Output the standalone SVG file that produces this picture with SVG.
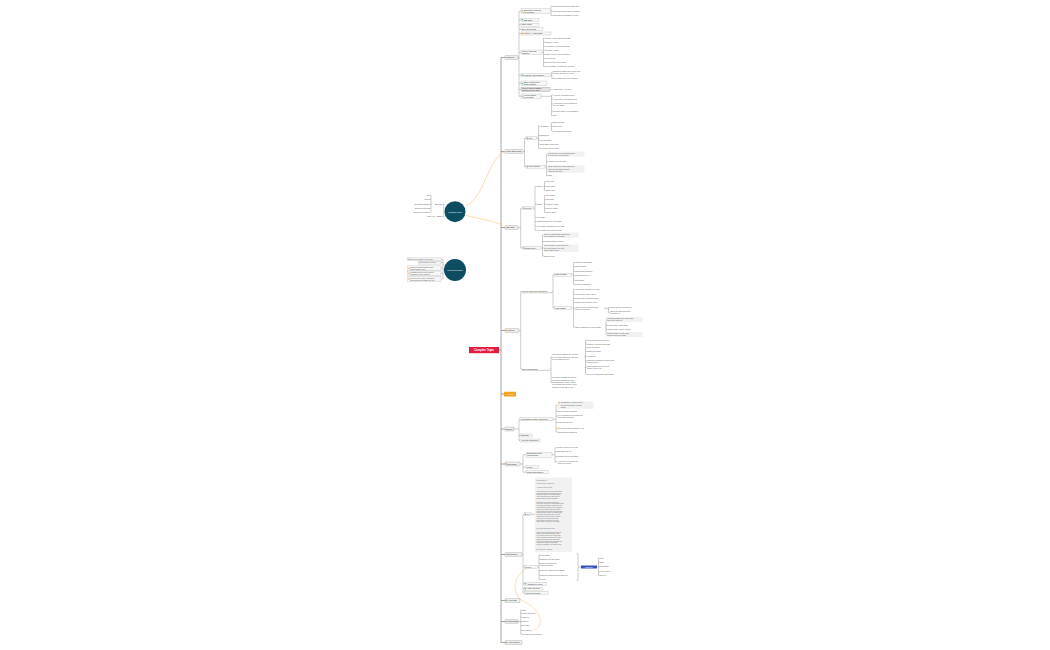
<svg xmlns="http://www.w3.org/2000/svg" width="1050" height="650" viewBox="0 0 1050 650">
<style>
text{font-family:"Liberation Sans",Arial,sans-serif}
.l{fill:none;stroke:#707070;stroke-width:0.35}
.tr{fill:none;stroke:#5a5a5a;stroke-width:0.55}
.rel{fill:none;stroke:#f6c47a;stroke-width:0.6}
.mb{fill:#f2f2f2;stroke:#8a8a8a;stroke-width:0.35}
.cb{fill:#f7f7f7;stroke:#a8a8a8;stroke-width:0.3}
.pn{fill:#f1f1f1;stroke:none}
.gb{fill:#e2e2e2;stroke:#999;stroke-width:0.3}
.tm{font-size:2.2px;fill:#222}
.tc{font-size:1.9px;fill:#333}
.tl{font-size:1.8px;fill:#555}
.tn{font-size:1.5px;fill:#666}
.tw{fill:#fff}
.gi{fill:#5cb85c}
.oi{fill:#f0962f}
</style>
<rect width="1050" height="650" fill="#fff"/>
<g id="connectors">
<path class="tr" d="M499,350H501 M501,57.5V642.5 M501,57.5H505 M501,151.5H505 M501,227.5H505 M501,330.5H505 M501,394H504 M501,429H505 M501,464H505 M501,554.5H505 M501,600.5H505 M501,621.5H505 M501,642.5H505"/>
<path class="l" d="M518,57.5H519 M519,11V96.3 M519,11H521 M519,19.8H521 M519,24.7H521 M519,29.3H521 M519,33.5H521 M519,52.3H521 M519,75.3H521 M519,83.4H521 M519,89.5H521 M519,96.3H521 M550.5,11H551 M551,6V15.5 M551,6H552.5 M551,11H552.5 M551,15.5H552.5 M542,52.3H543.5 M543.5,38V66.5 M543.5,38H545 M543.5,42H545 M543.5,46.5H545 M543.5,50H545 M543.5,54.5H545 M543.5,58.5H545 M543.5,62.5H545 M543.5,66.5H545 M551,75.3H551.8 M551.8,72V78.3 M551.8,72H553 M551.8,78.3H553 M550,89.5H553 M541,96.3H551.5 M551.5,95V115.7 M551.5,95H553 M551.5,99H553 M551.5,104H553 M551.5,111H553 M551.5,115.7H553"/>
<path class="l" d="M523,151.5H524.5 M524.5,138.3V166.7 M524.5,138.3H526 M524.5,166.7H526 M537,138.3H538.5 M538.5,126V148.3 M538.5,126H540 M538.5,135.7H540 M538.5,140H540 M538.5,144.3H540 M538.5,148.3H540 M550.5,126H551.5 M551.5,122.7V131 M551.5,122.7H553 M551.5,126.7H553 M551.5,131H553 M545,166.7H546.5 M546.5,154V175.7 M546.5,154H548 M546.5,161.7H548 M546.5,169H548 M546.5,175.7H548"/>
<path class="l" d="M518,227.5H520.7 M520.7,208.2V248 M520.7,208.2H522.7 M520.7,248H522.7 M533.3,208.2H535 M535,186.7V230.3 M535,186.7H536.7 M535,204H536.7 M535,217.3H536.7 M535,221.7H536.7 M535,226H536.7 M535,230.3H536.7 M541.8,186.7H544.5 M544.5,181.7V190.3 M544.5,181.7H546 M544.5,186H546 M544.5,190.3H546 M543.3,204H544.5 M544.5,195.7V212.3 M544.5,195.7H546 M544.5,199.7H546 M544.5,204H546 M544.5,208.3H546 M544.5,212.3H546 M541.7,248H542.5 M542.5,235V256 M542.5,235H544 M542.5,241.5H544 M542.5,248H544 M542.5,256H544"/>
<path class="l" d="M519,330.5H520.7 M520.7,291.5V369 M520.7,291.5H522 M520.7,369H522 M552,291.5H553 M553,274.7V308 M553,274.7H554.3 M553,308H554.3 M571.7,274.7H573.5 M573.5,262.3V284.7 M573.5,262.3H575 M573.5,266.7H575 M573.5,271H575 M573.5,275.7H575 M573.5,280H575 M573.5,284.7H575 M571.7,308H573.5 M573.5,289.3V327 M573.5,289.3H575 M573.5,294H575 M573.5,298.3H575 M573.5,302.7H575 M573.5,308.3H575 M573.5,327H575 M604,308.3H608.5 M608.5,307.7V312.5 M608.5,307.7H610 M608.5,312.5H610 M605,327H606 M606,319.5V334.5 M606,319.5H607 M606,325H607 M606,329H607 M606,334.5H607 M550,369H551 M551,357V382.5 M551,357H552 M551,382.5H552 M584,357H585.5 M585.5,340V374 M585.5,340H587 M585.5,344H587 M585.5,347.7H587 M585.5,351.7H587 M585.5,356H587 M585.5,361H587 M585.5,367.5H587 M585.5,374H587"/>
<path class="l" d="M514,429H519 M519,419.3V440.5 M519,419.3H520 M519,435.5H520 M519,440.5H520 M553,419.3H556 M556,405V432 M556,405H558 M556,411H558 M556,416.2H558 M556,422.7H558 M556,428.3H558 M556,432H558 M520,464H523 M523,454.7V472.2 M523,454.7H526 M523,467.2H526 M523,472.2H526 M552,454.7H555 M555,447.7V462 M555,447.7H558 M555,451.7H558 M555,456.7H558 M555,462H558"/>
<path class="l" d="M522,554.5H523 M523,514.3V592.8 M523,514.3H524.3 M523,567H524.3 M523,583.8H524.3 M523,588.7H524.3 M523,592.8H524.3 M531,514.3H535 M537.7,567H539 M539,555V579.3 M539,555H540 M539,559H540 M539,564H540 M539,570.7H540 M539,575H540 M539,579.3H540 M576.5,553Q578,553 578,555V565Q578,567 579.5,567Q578,567 578,569V579Q578,581 576.5,581 M579.5,567H581 M597,567H598.5 M598.5,558.3V575.7 M598.5,558.3H600 M598.5,562.3H600 M598.5,566.7H600 M598.5,571.7H600 M598.5,575.7H600 M518,621.5H520.7 M520.7,610V634 M520.7,610H522 M520.7,613.3H522 M520.7,617.3H522 M520.7,621.7H522 M520.7,625.7H522 M520.7,630H522 M520.7,634H522"/>
<path class="l" d="M444.5,211.7H443.8 M443.8,204V216.7 M443.8,204H442.8 M443.8,216.7H441.6 M432.4,204H431 M431,195.3V212.3 M431,195.3H430.3 M431,199.3H430.3 M431,204.3H430.3 M431,208.3H430.3 M431,212.3H430.3 M435.8,216.7H431.4 M444,270H443 M443,259.3V279 M443,259.3H441.2 M443,262.7H441.2 M443,268.3H441.2 M443,273.3H441.2 M443,279H441.2"/>
<path class="rel" d="M466,205.5C484,199 488,158 505,151.5"/>
<path class="rel" d="M466,215.5C480,219 491,220 503,225.5"/>
<path class="rel" d="M526,569C512,577 511,595 525,602C541,610 545,626 534,630"/>
</g>
<g id="central"><rect x="469" y="347" width="30" height="6.2" fill="#e31c3d"/><text x="484" y="351.1" text-anchor="middle" font-size="2.8" font-weight="bold" class="tw">Complex Topic</text></g>
<g id="floating1"><circle cx="455" cy="211.7" r="10.5" fill="#0d4d61"/><text x="455" y="212.5" text-anchor="middle" font-size="2.2" class="tw">Floating Topic</text>
<text class="tc" x="442.5" y="204.7" text-anchor="end">Idea pool</text>
<text class="tl" text-anchor="end"><tspan x="430" y="196">Idea</tspan><tspan x="430" y="200">Sketch</tspan><tspan x="430" y="205">Brainstorm session</tspan><tspan x="430" y="209">Research and links</tspan><tspan x="430" y="213">Questions to answer</tspan></text>
<text class="tc" x="441.3" y="217.4" text-anchor="end">Draft</text><text class="tl" x="431" y="217.4" text-anchor="end">Note</text></g>
<g id="floating2"><circle cx="455" cy="270" r="11" fill="#0d4d61"/><text x="455" y="270.8" text-anchor="middle" font-size="2.2" class="tw">Ideas Collection</text>
<rect class="cb" x="407.8" y="257.9" width="33.2" height="2.8"/><circle class="gi" cx="409" cy="259.3" r="0.7"/><text class="tl" x="410.2" y="260">Collect all ideas in one place</text>
<rect class="cb" x="418.5" y="261.3" width="22.5" height="2.8"/><text class="tl" x="419.5" y="263.4">Sort ideas by priority</text>
<rect class="cb" x="407.8" y="265.9" width="33.2" height="4.7"/><circle class="oi" cx="409" cy="268.3" r="0.7"/><text class="tl"><tspan x="410.2" y="267.8">Connect floating topics to the</tspan><tspan x="410.2" y="270.1">main structure later</tspan></text>
<rect class="cb" x="407.8" y="271" width="33.2" height="4.7"/><circle class="oi" cx="409" cy="273.3" r="0.7"/><text class="tl"><tspan x="410.2" y="272.8">Floating topics can be placed</tspan><tspan x="410.2" y="275.1">anywhere on the canvas</tspan></text>
<rect class="cb" x="407.8" y="276.6" width="33.2" height="4.7"/><circle class="oi" cx="409" cy="279" r="0.7"/><text class="tl"><tspan x="410.2" y="278.5">Use them for notes, reminders</tspan><tspan x="410.2" y="280.8">and comments outside the tree</tspan></text></g>
<g id="markers"><rect class="mb" x="505" y="55.6" width="13" height="3.8" rx="0.4"/><text class="tm" x="506.2" y="58.3">Markers</text>
<rect class="cb" x="521" y="8.5" width="29.5" height="5"/><circle class="oi" cx="522.4" cy="11" r="0.75"/><text class="tc"><tspan x="523.6" y="10.5">Task priority markers</tspan><tspan x="523.6" y="12.8">set on topics</tspan></text>
<text class="tl"><tspan x="552.5" y="6.65">Priority markers set the task order</tspan><tspan x="552.5" y="11.65">Progress markers track completion</tspan><tspan x="552.5" y="16.15">Flag markers highlight key items</tspan></text>
<rect class="cb" x="521" y="18.3" width="18" height="3"/><circle class="gi" cx="522.4" cy="19.8" r="0.75"/><text class="tc" x="523.6" y="20.5">Task Start</text>
<rect class="cb" x="521" y="23.2" width="18" height="3"/><text class="tc" x="522" y="25.4">Start: Today</text>
<rect class="cb" x="521" y="27.8" width="22" height="3"/><text class="tc" x="522" y="30">Due: Next Friday</text>
<rect class="cb" x="521" y="32" width="30" height="3"/><circle class="oi" cx="522.4" cy="33.5" r="0.75"/><text class="tc" x="523.6" y="34.2">Priority 1 · Urgent task</text>
<rect class="cb" x="521" y="50" width="21" height="4.6"/><text class="tc"><tspan x="522" y="51.8">Weekly Calendar</tspan><tspan x="522" y="54.1">Markers</tspan></text>
<text class="tl"><tspan x="545" y="38.65">Monday: team planning meeting</tspan><tspan x="545" y="42.65">Tuesday: review</tspan><tspan x="545" y="47.15">Wednesday: client presentation</tspan><tspan x="545" y="50.65">Thursday: testing</tspan><tspan x="545" y="55.15">Friday: weekly report submitted</tspan><tspan x="545" y="59.15">Weekend off</tspan><tspan x="545" y="63.15">Next Monday: sprint demo</tspan><tspan x="545" y="67.15">Next Tuesday: retrospective meeting</tspan></text>
<rect class="cb" x="521" y="73.8" width="30" height="3"/><circle class="gi" cx="522.4" cy="75.3" r="0.75"/><text class="tc" x="523.6" y="76">Progress: Half Complete</text>
<text class="tl"><tspan x="553" y="71.5">Completed tasks move to the done</tspan><tspan x="553" y="73.8">list after the weekly review</tspan><tspan x="553" y="78.95">Open tasks stay in the backlog</tspan></text>
<rect class="cb" x="521" y="81" width="26" height="4.8"/><circle class="gi" cx="522.4" cy="83.4" r="0.75"/><text class="tc"><tspan x="523.6" y="82.9">Smiley markers for</tspan><tspan x="523.6" y="85.1">team feedback</tspan></text>
<rect class="gb" x="521" y="87.2" width="29" height="4.6"/><text class="tc"><tspan x="522" y="89.1">People markers assign</tspan><tspan x="522" y="91.3">owners to every task</tspan></text>
<text class="tl" x="553" y="90.15">Assigned to: Alex Chen</text>
<rect class="cb" x="521" y="94" width="20" height="4.6"/><circle class="gi" cx="522.4" cy="96.3" r="0.75"/><text class="tc"><tspan x="523.6" y="95.9">Arrow symbols</tspan><tspan x="523.6" y="98.1">for direction</tspan></text>
<text class="tl"><tspan x="553" y="95.65">Arrow up: increasing trend</tspan><tspan x="553" y="99.65">Arrow down: decreasing trend</tspan><tspan x="553" y="103.5">Arrow right: moving forward to</tspan><tspan x="553" y="105.8">the next stage</tspan><tspan x="553" y="111.65">Question mark: to be discussed</tspan><tspan x="553" y="116.35">Stop</tspan></text></g>
<g id="topic-elements"><rect class="mb" x="505" y="149.6" width="18" height="3.8" rx="0.4"/><text class="tm" x="506.2" y="152.3">Topic Elements</text>
<rect class="cb" x="526" y="136.8" width="11" height="3"/><circle class="gi" cx="527.4" cy="138.3" r="0.75"/><text class="tc" x="528.6" y="139">Text</text>
<text class="tl"><tspan x="540" y="126.7">Formatting</tspan><tspan x="540" y="136.35">Numbering</tspan><tspan x="540" y="140.65">Text wrapping</tspan><tspan x="540" y="144.95">Topic shape and border</tspan><tspan x="540" y="148.95">Fill colour and line style</tspan></text>
<text class="tl"><tspan x="553" y="123.35">Bold and italic</tspan><tspan x="553" y="127.35">Font colour</tspan><tspan x="553" y="131.65">Text alignment options</tspan></text>
<rect class="cb" x="526" y="165.2" width="19" height="3"/><circle class="gi" cx="527.4" cy="166.7" r="0.75"/><text class="tc" x="528.6" y="167.4">Rich Content</text>
<rect class="pn" x="547.5" y="151.6" width="37" height="5"/><rect class="pn" x="547.5" y="165.3" width="37" height="7.4"/>
<text class="tl"><tspan x="548" y="153.5">Add images, hyperlinks and notes</tspan><tspan x="548" y="155.8">to enrich the topic content</tspan><tspan x="548" y="162.35">Attach files to any topic</tspan><tspan x="548" y="167.35">Insert equations, audio notes and</tspan><tspan x="548" y="169.65">labels to add detail without</tspan><tspan x="548" y="171.95">cluttering the map</tspan><tspan x="548" y="176.35">Tags</tspan></text></g>
<g id="structure"><rect class="mb" x="505" y="225.6" width="13" height="3.8" rx="0.4"/><text class="tm" x="506.2" y="228.3">Structure</text>
<rect class="cb" x="522.7" y="206.7" width="10.6" height="3"/><circle class="gi" cx="524.1" cy="208.2" r="0.75"/><text class="tc" x="525.3" y="208.9">Layout</text>
<text class="tl"><tspan x="536.7" y="187.35">Maps</tspan><tspan x="536.7" y="204.65">Charts</tspan><tspan x="537" y="217.95">Tree Table</tspan><tspan x="537" y="222.35">Switch structure for one branch</tspan><tspan x="537" y="226.65">Mix multiple structures in one map</tspan><tspan x="537" y="230.95">Free position for floating topics</tspan></text>
<text class="tl"><tspan x="546" y="182.35">Mind Map</tspan><tspan x="546" y="186.65">Logic Chart</tspan><tspan x="546" y="190.95">Brace Map</tspan><tspan x="546" y="196.35">Tree Chart</tspan><tspan x="546" y="200.35">Org Chart</tspan><tspan x="546" y="204.65">Fishbone Chart</tspan><tspan x="546" y="208.95">Timeline Chart</tspan><tspan x="546" y="212.95">Matrix Chart</tspan></text>
<rect class="cb" x="522.7" y="246.5" width="19" height="3"/><circle class="gi" cx="524.1" cy="248" r="0.75"/><text class="tc" x="525.3" y="248.7">Branch Style</text>
<rect class="pn" x="543.5" y="232.6" width="35" height="5"/><rect class="pn" x="543.5" y="244.4" width="35" height="7.4"/>
<text class="tl"><tspan x="544" y="234.5">Curved, straight and elbow lines</tspan><tspan x="544" y="236.8">are available for branches</tspan><tspan x="544" y="242.15">Rainbow branch colours</tspan><tspan x="544" y="246.35">Set line width, colour and taper</tspan><tspan x="544" y="248.65">for each branch or for the</tspan><tspan x="544" y="250.95">whole map at once</tspan><tspan x="544" y="256.65">Tapered lines</tspan></text></g>
<g id="labels"><rect class="mb" x="505" y="328.6" width="14" height="3.8" rx="0.4"/><circle class="oi" cx="506.4" cy="330.5" r="0.8"/><text class="tm" x="507.6" y="331.3">Labels</text>
<text class="tc" x="522" y="292.15">Project Labels and Categories</text><path class="l" d="M521.8,292.8H552"/>
<rect class="cb" x="554.3" y="273.2" width="17.4" height="3"/><text class="tc" x="555.2" y="275.4">Label Groups</text>
<text class="tl"><tspan x="575" y="262.95">Marketing Campaign</tspan><tspan x="575" y="267.35">Sales Strategy</tspan><tspan x="575" y="271.65">Product Development</tspan><tspan x="575" y="276.35">Customer Service</tspan><tspan x="575" y="280.65">Operations</tspan><tspan x="575" y="285.35">Finance and Budget</tspan></text>
<rect class="cb" x="554.3" y="306.5" width="17.4" height="3"/><text class="tc" x="555.2" y="308.7">Label Usage</text>
<text class="tl"><tspan x="575" y="289.95">Add several labels to one topic</tspan><tspan x="575" y="294.65">Filter topics by their labels</tspan><tspan x="575" y="298.95">Search labels across the map</tspan><tspan x="575" y="303.35">Show or hide labels in view</tspan><tspan x="575" y="307.8">Labels can be combined with</tspan><tspan x="575" y="310.1">markers and icons</tspan><tspan x="575" y="327.65">Label examples by project phase</tspan></text>
<text class="tl"><tspan x="610" y="308.35">Labels appear below topics</tspan><tspan x="610" y="312">Labels are saved with the</tspan><tspan x="610" y="314.3">exported file</tspan></text>
<rect class="pn" x="606.5" y="317.1" width="36" height="4.8"/><rect class="pn" x="606.5" y="332.1" width="36" height="4.8"/>
<text class="tl"><tspan x="607" y="319">Research phase: user interviews</tspan><tspan x="607" y="321.3">and online surveys</tspan><tspan x="607" y="325.65">Design phase: wireframes</tspan><tspan x="607" y="329.65">Testing phase: quality checks</tspan><tspan x="607" y="334">Launch phase: release and</tspan><tspan x="607" y="336.3">announcement to users</tspan></text>
<text class="tc" x="522" y="369.65">Label Descriptions</text><path class="l" d="M521.8,370.3H550"/>
<text class="tl"><tspan x="552" y="355.35">Labels help organize the content</tspan><tspan x="552" y="357.65">of your map. Each topic can hold</tspan><tspan x="552" y="359.95">several labels at once.</tspan></text>
<text class="tl"><tspan x="552" y="378.4">Use labels consistently across</tspan><tspan x="552" y="380.7">projects so that filtering and</tspan><tspan x="552" y="383">searching stay reliable. Short,</tspan><tspan x="552" y="385.3">clear words work best for quick</tspan><tspan x="552" y="387.6">scanning of the whole map.</tspan></text>
<text class="tl"><tspan x="587" y="340.65">Research and development</tspan><tspan x="587" y="344.65">Quarterly planning and goals</tspan><tspan x="587" y="348.35">Team meetings</tspan><tspan x="587" y="352.35">Budget allocation</tspan><tspan x="587" y="356.65">Hiring plan</tspan><tspan x="587" y="360.5">Customer feedback collected from</tspan><tspan x="587" y="362.8">online surveys</tspan><tspan x="587" y="367">Sales targets for the second</tspan><tspan x="587" y="369.3">quarter of the year</tspan><tspan x="587" y="374.65">Review of marketing performance</tspan></text></g>
<g id="image"><rect x="504" y="391.8" width="12" height="4.6" rx="0.4" fill="#f7a21b"/><text x="510" y="394.9" text-anchor="middle" font-size="2.3" class="tw">Image</text></g>
<g id="outline"><rect class="mb" x="505" y="427.1" width="9" height="3.8" rx="0.4"/><text class="tm" x="505.7" y="429.7" font-size="1.8">Outline</text>
<rect class="cb" x="520" y="417.8" width="33" height="3"/><text class="tc" x="521" y="420">Presentation Outline and Slides</text>
<rect class="pn" x="557.5" y="401.4" width="36" height="7.4"/><circle class="oi" cx="559" cy="402.7" r="0.7"/><circle class="oi" cx="559" cy="428.3" r="0.7"/>
<text class="tl"><tspan x="560.4" y="403.35">Introduction: overview of the</tspan><tspan x="560.4" y="405.65">project goals and expected</tspan><tspan x="560.4" y="407.95">results</tspan><tspan x="558" y="411.65">Current market situation</tspan><tspan x="558" y="415.7">Key findings from research and</tspan><tspan x="558" y="418">competitor analysis</tspan><tspan x="558" y="423.35">Proposed solution</tspan><tspan x="560.4" y="428.95">Timeline and milestones - Q3</tspan><tspan x="558" y="432.65">Questions and answers</tspan></text>
<rect class="cb" x="520" y="434" width="12.3" height="3"/><text class="tc" x="521" y="436.2">Summary</text>
<rect class="cb" x="520" y="439" width="20" height="3"/><text class="tc" x="521" y="441.2">Appendix and Notes</text></g>
<g id="boundary"><rect class="mb" x="505" y="462.1" width="15" height="3.8" rx="0.4"/><circle class="oi" cx="506.4" cy="464" r="0.8"/><text class="tm" x="507.6" y="464.8">Boundary</text>
<rect class="cb" x="526" y="452.2" width="26" height="5"/><text class="tc"><tspan x="527" y="454.1">Boundaries group</tspan><tspan x="527" y="456.4">related topics</tspan></text>
<text class="tl"><tspan x="558" y="448.35">Mark a region of the map</tspan><tspan x="558" y="452.35">Boundary styles</tspan><tspan x="558" y="457.35">Custom colour and shape</tspan><tspan x="558" y="461.5">Add a title to describe the</tspan><tspan x="558" y="463.8">grouped content</tspan></text>
<rect class="cb" x="526" y="465.7" width="12.3" height="3"/><text class="tc" x="527" y="467.9">Group</text>
<rect class="cb" x="526" y="470.7" width="22.3" height="3"/><text class="tc" x="527" y="472.9">Nested Boundaries</text></g>
<g id="summaries"><rect class="mb" x="505" y="552.6" width="17" height="3.8" rx="0.4"/><text class="tm" x="506.2" y="555.3">Summaries</text>
<rect class="cb" x="524.3" y="512.8" width="6.7" height="3"/><circle class="gi" cx="525.5" cy="514.3" r="0.7"/><text class="tn" x="526.6" y="514.9">Note</text>
<rect class="pn" x="535" y="477.6" width="37" height="74.4"/>
<text class="tn"><tspan x="536.5" y="480.5">Meeting Notes —</tspan><tspan x="536.5" y="484.3">Project Kickoff, March 12 —</tspan><tspan x="536.5" y="488">Attendees: whole team</tspan><tspan x="536.5" y="491.8">The kickoff meeting set the main goals</tspan><tspan x="536.5" y="493.6">for the first quarter and agreed on the</tspan><tspan x="536.5" y="495.4">working process for all teams. Each</tspan><tspan x="536.5" y="497.2">team lead will share a short weekly</tspan><tspan x="536.5" y="499">update with the project manager.</tspan><tspan x="536.5" y="502.6">Decisions: the project will follow a</tspan><tspan x="536.5" y="504.4">two-week sprint cycle. Design work starts</tspan><tspan x="536.5" y="506.2">first and development follows once the</tspan><tspan x="536.5" y="508">wireframes are approved. The budget is</tspan><tspan x="536.5" y="509.8">fixed for the quarter and any change</tspan><tspan x="536.5" y="511.6">needs approval from the steering group.</tspan><tspan x="536.5" y="513.4">Marketing will prepare the launch plan</tspan><tspan x="536.5" y="515.2">in parallel with development so that</tspan><tspan x="536.5" y="517">materials are ready on time. Testing</tspan><tspan x="536.5" y="518.8">is planned for the last two sprints,</tspan><tspan x="536.5" y="520.6">with a buffer week before release.</tspan><tspan x="536.5" y="522.4">Risks will be reviewed every month.</tspan><tspan x="536.5" y="528.6">Next steps and action items</tspan><tspan x="536.5" y="532.6">Prepare the detailed project plan and</tspan><tspan x="536.5" y="534.4">share it with all stakeholders. Book</tspan><tspan x="536.5" y="536.2">the design review for next week and</tspan><tspan x="536.5" y="538">collect feedback from the sales team.</tspan><tspan x="536.5" y="539.8">Update the shared task board after</tspan><tspan x="536.5" y="541.6">each meeting and close finished items.</tspan><tspan x="536.5" y="543.4">Confirm the testing environment.</tspan><tspan x="536.5" y="545.2">Send the summary to the whole team.</tspan><tspan x="536.5" y="549.8">Next meeting: March 26</tspan></text>
<rect class="cb" x="524.3" y="565.5" width="13.4" height="3"/><text class="tc" x="525.2" y="567.7">Project</text>
<text class="tl"><tspan x="540" y="555.65">Goal setting</tspan><tspan x="540" y="559.65">Strategic plan and vision</tspan><tspan x="540" y="563.5">Market research and</tspan><tspan x="540" y="565.8">competitor study</tspan><tspan x="540" y="571.35">Resource planning and budget</tspan><tspan x="540" y="575.65">Marketing campaign and channels</tspan><tspan x="540" y="579.95">Review</tspan></text>
<rect x="581" y="565.5" width="16" height="3" fill="#3a4fc6"/><text x="589" y="567.7" text-anchor="middle" font-size="1.9" class="tw">Summary</text>
<text class="tl"><tspan x="600" y="558.95">Plan</tspan><tspan x="600" y="562.95">Draft</tspan><tspan x="600" y="567.35">Discussion</tspan><tspan x="600" y="572.35">Final version</tspan><tspan x="600" y="576.35">Delivery</tspan></text>
<rect class="cb" x="524.3" y="582.3" width="22.4" height="3"/><circle class="gi" cx="525.7" cy="583.8" r="0.7"/><text class="tc" x="526.9" y="584.5">Attachment: report</text>
<rect class="cb" x="524.3" y="587.2" width="18.4" height="3"/><circle class="gi" cx="525.7" cy="588.7" r="0.7"/><text class="tc" x="526.9" y="589.4">Audio: meeting</text>
<rect class="cb" x="524.3" y="591.3" width="24" height="3"/><text class="tc" x="525.2" y="593.5">Link to project site</text></g>
<g id="hyperlink"><rect class="mb" x="505" y="598.6" width="15" height="3.8" rx="0.4"/><circle class="gi" cx="506.4" cy="600.5" r="0.8"/><text class="tm" x="507.6" y="601.3">Hyperlink</text></g>
<g id="relationship"><rect class="mb" x="505" y="619.6" width="13" height="3.8" rx="0.4"/><text class="tm" x="505.8" y="622.3" font-size="1.9">Relationship</text>
<text class="tl"><tspan x="522" y="610.65">Start</tspan><tspan x="522" y="613.95">Cause and effect</tspan><tspan x="522" y="617.95">Problem</tspan><tspan x="522" y="622.35">Solution</tspan><tspan x="522" y="626.35">Next step</tspan><tspan x="522" y="630.65">Dependency</tspan><tspan x="522" y="634.65">Conclusion and follow-up</tspan></text></g>
<g id="audio-notes"><rect class="mb" x="505" y="640.6" width="17" height="3.8" rx="0.4"/><circle class="gi" cx="506.4" cy="642.5" r="0.8"/><text class="tm" x="507.6" y="643.3">Audio Notes</text></g>
</svg>
